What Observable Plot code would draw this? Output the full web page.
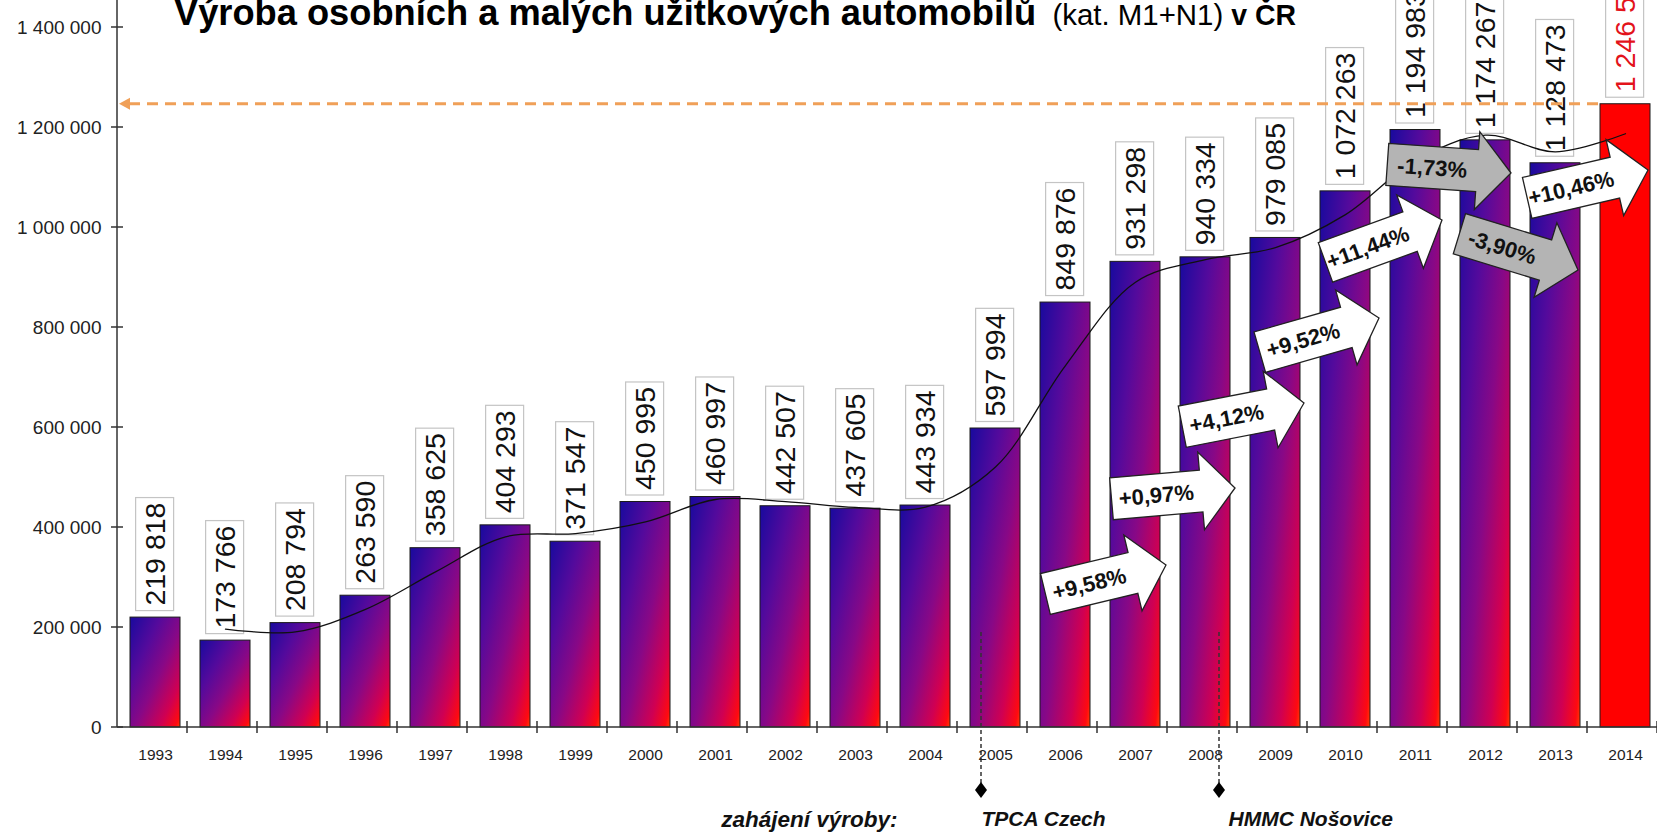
<!DOCTYPE html>
<html><head><meta charset="utf-8">
<script src="https://cdn.jsdelivr.net/npm/d3@7"></script>
<script src="https://cdn.jsdelivr.net/npm/@observablehq/plot@0.6"></script>
<style>body{margin:0;background:#fff;overflow:hidden} svg{display:block}</style>
</head><body><div id="chart"></div>
<script>
// ---- data ----
const years = ["1993","1994","1995","1996","1997","1998","1999","2000","2001","2002","2003","2004","2005","2006","2007","2008","2009","2010","2011","2012","2013","2014"];
const production = [219818,173766,208794,263590,358625,404293,371547,450995,460997,442507,437605,443934,597994,849876,931298,940334,979085,1072263,1194983,1174267,1128473,1246506];
const yTicks = [0,200000,400000,600000,800000,1000000,1200000,1400000];
const highlightYear = "2014";
const growthYears = ["2007","2008","2009","2010","2011","2012","2013","2014"];
const growthLabels = ["+9,58%","+0,97%","+4,12%","+9,52%","+11,44%","-1,73%","-3,90%","+10,46%"];
// annotation anchors (arrow tip, in data units) and their rotation / offsets
const arrowTipValues = [324000,478000,648000,818000,1014000,1108000,914000,1114000];
const arrowAngles = [-13.5,-5,-11,-16,-20,4,17,-13];
const arrowTipDx = [31,30,29,34,27,26,23,23];
const milestoneYears = ["2005","2008"];
const milestoneDx = [-14,14];
const bottomNotes = [
  {year:"2005", text:"zahájení výroby:", anchor:"end", dx:-98},
  {year:"2005", text:"TPCA Czech", anchor:"start", dx:-14},
  {year:"2008", text:"HMMC Nošovice", anchor:"start", dx:23}
];
const titleMain = "Výroba osobních a malých užitkových automobilů";
const titleMid = "  (kat. M1+N1) ";
const titleEnd = "v ČR";

const FONT = "'Liberation Sans', Arial, sans-serif";
const fmt = v => d3.format(",")(v).replace(/,/g, "\u00a0");
const data = years.map((year, i) => ({year, value: production[i]}));
const arrows = growthYears.map((year, i) => ({year, label: growthLabels[i], value: arrowTipValues[i], angle: arrowAngles[i], dx: arrowTipDx[i], negative: growthLabels[i].startsWith("-")}));
const center = (x, v) => x(v) + (x.bandwidth ? x.bandwidth() / 2 : 0);

const defsMark = () => {
  const defs = d3.create("svg:defs");
  const g = defs.append("linearGradient").attr("id", "barGrad")
    .attr("x1", 0).attr("y1", 0).attr("x2", 1).attr("y2", 1);
  [[0,"#180a9e"],[0.3,"#540a9c"],[0.55,"#880886"],[0.8,"#d00052"],[0.95,"#ff0a10"],[1,"#ff4000"]]
    .forEach(([o,c]) => g.append("stop").attr("offset", o).attr("stop-color", c));
  return defs.node();
};

const axesMark = (index, {x, y}, values, dims) => {
  const g = d3.create("svg:g");
  const ax = x.range()[0];
  const y0 = y(0);
  const step = x.step();
  g.append("line").attr("x1", ax).attr("x2", ax).attr("y1", 0).attr("y2", y0).attr("stroke", "#333").attr("stroke-width", 1.5);
  g.append("line").attr("x1", ax).attr("x2", dims.width).attr("y1", y0).attr("y2", y0).attr("stroke", "#333").attr("stroke-width", 1.5);
  for (const t of yTicks) g.append("line").attr("x1", ax - 6).attr("x2", ax + 6).attr("y1", y(t)).attr("y2", y(t)).attr("stroke", "#333").attr("stroke-width", 1.5);
  for (let i = 1; i <= years.length; i++) g.append("line").attr("x1", ax + i * step).attr("x2", ax + i * step).attr("y1", y0 - 6).attr("y2", y0 + 6).attr("stroke", "#333").attr("stroke-width", 1.5);
  return g.node();
};

const orangeMark = (index, {x, y}) => {
  const g = d3.create("svg:g");
  const ax = x.range()[0];
  const yy = y(production[years.indexOf(highlightYear)]);
  g.append("line").attr("x1", ax + 12).attr("x2", x(highlightYear)).attr("y1", yy).attr("y2", yy)
    .attr("stroke", "#f0a058").attr("stroke-width", 3).attr("stroke-dasharray", "11,7");
  g.append("path").attr("d", `M${ax + 2},${yy}L${ax + 13},${yy - 6}L${ax + 13},${yy + 6}Z`).attr("fill", "#f0a058");
  return g.node();
};

const arrowMark = (index, {x, y}) => {
  const g = d3.create("svg:g");
  const L = 124, hl = 34, bh = 21, hh = 39;
  for (const a of arrows) {
    const tx = center(x, a.year) + a.dx, ty = y(a.value);
    const ag = g.append("g").attr("transform", `translate(${tx},${ty}) rotate(${a.angle})`);
    ag.append("path").attr("d", `M0,0L${-hl},${-hh}L${-hl},${-bh}L${-L},${-bh}L${-L},${bh}L${-hl},${bh}L${-hl},${hh}Z`)
      .attr("fill", a.negative ? "#b4b4b4" : "#fff").attr("stroke", "#222").attr("stroke-width", 1.3);
    ag.append("text").attr("x", -(L + hl) / 2).attr("y", 0).attr("dy", "0.36em").attr("text-anchor", "middle")
      .attr("font-family", FONT).attr("font-weight", "bold").attr("font-size", 22).attr("fill", "#111").text(a.label);
  }
  return g.node();
};

const milestoneMark = (index, {x, y}) => {
  const g = d3.create("svg:g");
  milestoneYears.forEach((yr, i) => {
    const mx = center(x, yr) + milestoneDx[i];
    const yb = y(0) + 63;
    g.append("line").attr("x1", mx).attr("x2", mx).attr("y1", y(190000)).attr("y2", yb - 6)
      .attr("stroke", "#333").attr("stroke-width", 1.5).attr("stroke-dasharray", "4,3");
    g.append("path").attr("d", `M${mx},${yb - 8}L${mx + 6},${yb}L${mx},${yb + 8}L${mx - 6},${yb}Z`).attr("fill", "#000");
  });
  return g.node();
};

const titleMark = () => {
  const t = d3.create("svg:text").attr("transform", "translate(174,25) scale(0.98,1)")
    .attr("text-anchor", "start").attr("font-family", FONT).attr("fill", "#000").attr("style", "white-space:pre");
  t.append("tspan").attr("font-weight", "bold").attr("font-size", 37).text(titleMain);
  t.append("tspan").attr("font-size", 30).text(titleMid);
  t.append("tspan").attr("font-weight", "bold").attr("font-size", 29).text(titleEnd);
  return t.node();
};

const NOTE = {y: d => 0, text: "text", dy: 92, fontSize: 21, fontStyle: "italic", fontWeight: "bold", fill: "#111"};

const chart = Plot.plot({
  width: 1657, height: 832,
  marginLeft: 117, marginRight: 0, marginTop: 27, marginBottom: 105,
  style: {background: "#fff", fontFamily: FONT, overflow: "hidden"},
  x: {domain: years, range: [117, 1663], paddingInner: 0.28, paddingOuter: 0.14, axis: null},
  y: {domain: [0, 1400000], range: [727, 27], axis: null},
  marks: [
    defsMark,
    Plot.barY(data.filter(d => d.year !== highlightYear), {x: "year", y: "value", fill: "url(#barGrad)", stroke: "#1a1a1a", strokeWidth: 1}),
    Plot.barY(data.filter(d => d.year === highlightYear), {x: "year", y: "value", fill: "#ff0000", stroke: "#1a1a1a", strokeWidth: 1}),
    Plot.text(data, {x: "year", y: "value", text: d => fmt(d.value), rotate: -90, textAnchor: "start", lineAnchor: "middle", dy: -12,
      fontSize: 28.5, fill: d => d.year === highlightYear ? "#e3131b" : "#111"}),
    Plot.lineY(data, Plot.windowY({k: 2, anchor: "end", strict: true, reduce: "mean"}, {x: "year", y: "value", curve: "catmull-rom", stroke: "#111", strokeWidth: 1.3})),
    orangeMark,
    arrowMark,
    axesMark,
    milestoneMark,
    Plot.text(yTicks, {y: d => d, text: fmt, frameAnchor: "left", textAnchor: "end", dx: -16, fontSize: 19, fill: "#222"}),
    Plot.text(years, {x: d => d, y: d => 0, text: d => d, dy: 28, fontSize: 15.5, fill: "#222"}),
    Plot.text(bottomNotes.filter(d => d.anchor === "end"), {...NOTE, fontSize: 22.5, x: "year", textAnchor: "end", dx: -98}),
    Plot.text(bottomNotes.filter(d => d.dx === -14), {...NOTE, x: "year", textAnchor: "start", dx: -14}),
    Plot.text(bottomNotes.filter(d => d.dx === 23), {...NOTE, x: "year", textAnchor: "start", dx: 23}),
    titleMark
  ]
});
document.getElementById("chart").append(chart);

// white boxes behind the rotated value labels
Array.from(chart.querySelectorAll("text")).filter(t => /rotate\(-90\)/.test(t.getAttribute("transform") || "")).forEach(t => {
  const b = t.getBBox();
  const r = document.createElementNS("http://www.w3.org/2000/svg", "rect");
  const cy = b.y + b.height / 2;
  r.setAttribute("x", b.x - 5); r.setAttribute("width", b.width + 10);
  r.setAttribute("y", cy - 19); r.setAttribute("height", 38);
  r.setAttribute("fill", "#fff"); r.setAttribute("stroke", "#c4c4c4"); r.setAttribute("stroke-width", 1.2);
  r.setAttribute("transform", t.getAttribute("transform"));
  t.parentNode.insertBefore(r, t);
});
</script>
</body></html>
